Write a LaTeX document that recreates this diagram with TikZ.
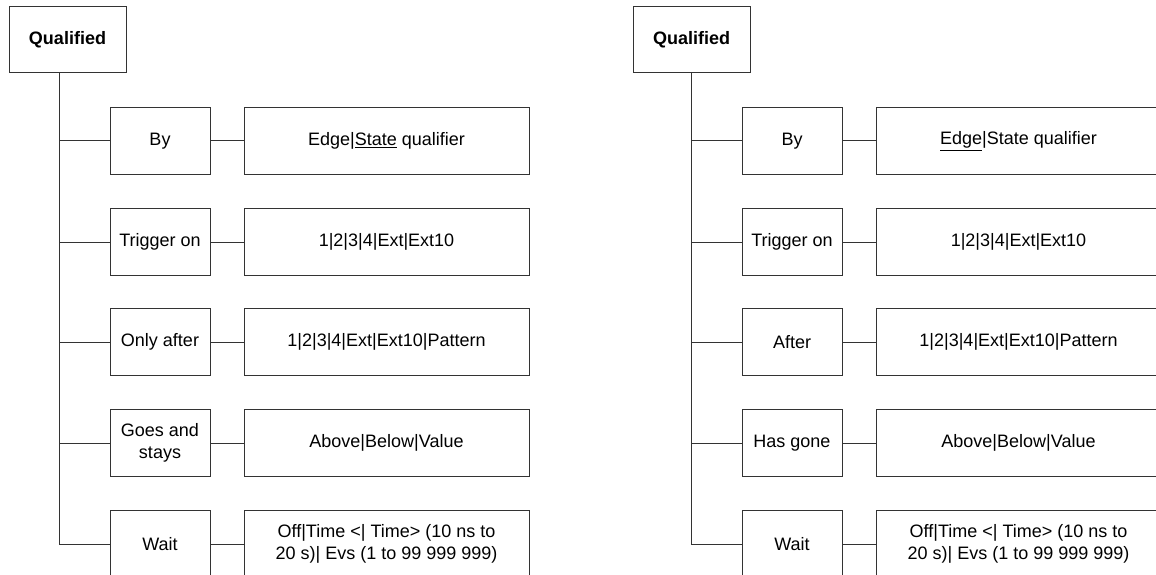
\documentclass[tikz,border=0pt]{standalone}
\usepackage{fontspec}
\setmainfont{Liberation Sans}

\begin{document}
\begin{tikzpicture}[x=1pt,y=-1pt,
  box/.style={draw=black!80,line width=1pt,fill=white,inner sep=2pt,
    align=center,font=\fontsize{18}{21.5}\selectfont},
  head/.style={box,minimum width=117pt,minimum height=66pt,
    font=\fontsize{18}{21.5}\selectfont\bfseries},
  opt/.style={box,minimum width=100pt,minimum height=67pt},
  val/.style={box,minimum width=285pt,minimum height=67pt},
  link/.style={draw=black!80,line width=1pt}]
  \clip (0,0) rectangle (1156,575);

  % left tree
  \node[head] (l-top) at (67.5,40) {Qualified};
  \coordinate (l-end) at (59,544);
  \node[opt] (l-by)    at (160,141) {By};
  \node[opt] (l-trig)  at (160,242) {Trigger on};
  \node[opt] (l-after) at (160,342) {Only after};
  \node[opt] (l-stay)  at (160,443) {Goes and\\stays};
  \node[opt] (l-wait)  at (160,544) {Wait};
  \node[val] (l-by-v)    at (386.5,141) {Edge|\underline{State} qualifier};
  \node[val] (l-trig-v)  at (386.5,242) {1|2|3|4|Ext|Ext10};
  \node[val] (l-after-v) at (386.5,342) {1|2|3|4|Ext|Ext10|Pattern};
  \node[val] (l-stay-v)  at (386.5,443) {Above|Below|Value};
  \node[val] (l-wait-v)  at (386.5,544) {Off|Time <| Time> (10 ns to\\20 s)| Evs (1 to 99 999 999)};

  % right tree
  \node[head] (r-top) at (691.5,40) {Qualified};
  \coordinate (r-end) at (691,544);
  \node[opt] (r-by)    at (792,141) {By};
  \node[opt] (r-trig)  at (792,242) {Trigger on};
  \node[opt] (r-after) at (792,342) {After};
  \node[opt] (r-stay)  at (792,443) {Has gone};
  \node[opt] (r-wait)  at (792,544) {Wait};
  \node[val] (r-by-v)    at (1018.5,141) {\underline{Edge}|State qualifier};
  \node[val] (r-trig-v)  at (1018.5,242) {1|2|3|4|Ext|Ext10};
  \node[val] (r-after-v) at (1018.5,342) {1|2|3|4|Ext|Ext10|Pattern};
  \node[val] (r-stay-v)  at (1018.5,443) {Above|Below|Value};
  \node[val] (r-wait-v)  at (1018.5,544) {Off|Time <| Time> (10 ns to\\20 s)| Evs (1 to 99 999 999)};

  % connectors
  \foreach \side in {l,r} {
    \draw[link] (\side-top.south -| \side-end) -- (\side-end);
    \foreach \row in {by,trig,after,stay,wait} {
      \draw[link] (\side-\row.west -| \side-end) -- (\side-\row.west);
      \draw[link] (\side-\row) -- (\side-\row-v);
    }
  }
\end{tikzpicture}
\end{document}
